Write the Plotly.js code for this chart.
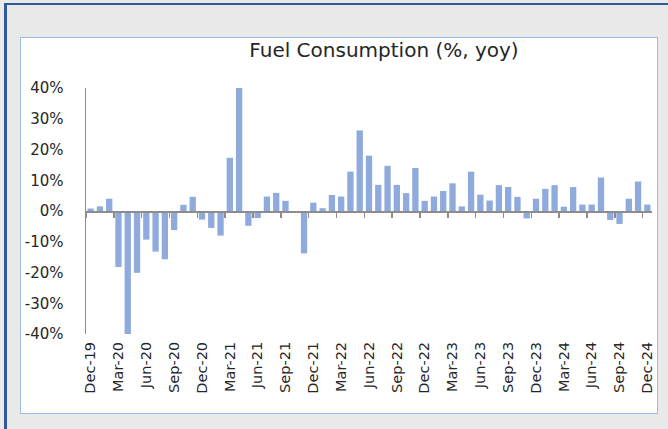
<!DOCTYPE html>
<html><head><meta charset="utf-8">
<script src="https://cdn.plot.ly/plotly-3.0.1.min.js"></script>
<style>
html,body{margin:0;padding:0;width:668px;height:429px;overflow:hidden;background:#e9e9e9;}
#outer{position:absolute;left:4px;top:3px;width:700px;height:500px;border-left:3px solid #2e5a9c;border-top:2px solid #2e5a9c;}
#box{position:absolute;left:20px;top:37px;width:636px;height:375px;background:#fff;border:1px solid #9dbbe6;}
#chart{position:absolute;left:0;top:0;width:636px;height:375px;}
</style></head>
<body><div id="outer"></div><div id="box"><div id="chart"></div></div>
<script>
const months = [
 "Dec-19",
 "Jan-20","Feb-20","Mar-20","Apr-20","May-20","Jun-20","Jul-20","Aug-20","Sep-20","Oct-20","Nov-20","Dec-20",
 "Jan-21","Feb-21","Mar-21","Apr-21","May-21","Jun-21","Jul-21","Aug-21","Sep-21","Oct-21","Nov-21","Dec-21",
 "Jan-22","Feb-22","Mar-22","Apr-22","May-22","Jun-22","Jul-22","Aug-22","Sep-22","Oct-22","Nov-22","Dec-22",
 "Jan-23","Feb-23","Mar-23","Apr-23","May-23","Jun-23","Jul-23","Aug-23","Sep-23","Oct-23","Nov-23","Dec-23",
 "Jan-24","Feb-24","Mar-24","Apr-24","May-24","Jun-24","Jul-24","Aug-24","Sep-24","Oct-24","Nov-24","Dec-24"
];
const fuelYoY = [
 0.8,
 1.5, 4.0, -18.2, -40.3, -20.1, -9.3, -13.2, -15.7, -6.2, 2.0, 4.6, -2.8,
 -5.5, -8.0, 17.3, 40.1, -4.8, -2.3, 4.7, 5.9, 3.3, -0.2, -13.8, 2.7,
 0.9, 5.2, 4.7, 12.8, 26.2, 18.0, 8.5, 14.7, 8.5, 5.8, 14.0, 3.3,
 4.7, 6.5, 9.0, 1.5, 12.8, 5.3, 3.4, 8.4, 7.8, 4.6, -2.4, 4.0,
 7.2, 8.4, 1.4, 7.8, 2.1, 2.1, 10.9, -2.9, -4.2, 4.0, 9.6, 2.1
];
const tickLabels = months.filter((m, i) => i % 3 === 0);
const yTicks = [-40, -30, -20, -10, 0, 10, 20, 30, 40];
const yTickText = yTicks.map(v => v + "%");
const boundaryTicks = tickLabels.map((m, k) => k * 3 - 0.5);

const font = "DejaVu Sans, sans-serif";
const txt = "#262626";

const traces = [
  {type: "bar", x: months, y: fuelYoY, marker: {color: "#8faadc", line: {width: 0}},
   hoverinfo: "x+y", showlegend: false},
  {type: "scatter", x: [0], y: [0], xaxis: "x2", mode: "none", showlegend: false, hoverinfo: "skip"}
];

const layout = {
  width: 636, height: 375,
  margin: {l: 65, r: 5, t: 50, b: 79},
  paper_bgcolor: "rgba(0,0,0,0)", plot_bgcolor: "rgba(0,0,0,0)",
  bargap: 0.32,
  title: {text: "Fuel Consumption (%, yoy)", font: {family: font, size: 20, color: txt},
          xref: "paper", x: 0.5265, xanchor: "center", yref: "container", y: 0.968, yanchor: "middle"},
  xaxis: {type: "category", range: [-0.5, months.length - 0.5], tickmode: "array",
          tickvals: tickLabels, ticktext: tickLabels, tickangle: -90, ticks: "",
          showline: false, showgrid: false, zeroline: false,
          tickfont: {family: font, size: 14.5, color: txt}, ticklabelstandoff: 4},
  xaxis2: {overlaying: "x", anchor: "free", position: 0.5, side: "bottom",
           range: [-0.5, months.length - 0.5], tickmode: "array", tickvals: boundaryTicks,
           ticks: "outside", ticklen: 5, tickwidth: 1.5, tickcolor: "#8c8c8c",
           showticklabels: false, showline: true, linecolor: "#8c8c8c", linewidth: 1.5,
           showgrid: false, zeroline: false},
  yaxis: {range: [-40, 40], tickmode: "array", tickvals: yTicks, ticktext: yTickText,
          ticks: "", showline: true, linecolor: "#8c8c8c", linewidth: 1.5,
          showgrid: false, zeroline: false, ticklabelstandoff: 18,
          tickfont: {family: font, size: 15, color: txt}}
};

Plotly.newPlot("chart", traces, layout, {displayModeBar: false, staticPlot: true});
</script>
</body></html>
